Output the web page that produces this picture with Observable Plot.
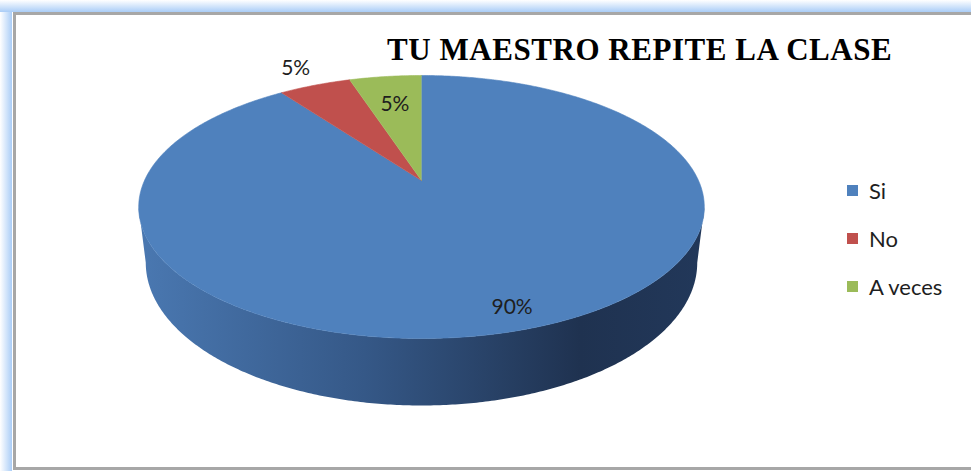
<!DOCTYPE html>
<html>
<head>
<meta charset="utf-8">
<script src="https://cdn.jsdelivr.net/npm/d3@7"></script>
<script src="https://cdn.jsdelivr.net/npm/@observablehq/plot@0.6"></script>
<style>
  html, body { margin: 0; padding: 0; background: #fff; }
  #wrap { position: relative; width: 971px; height: 471px; overflow: hidden; background: #fff; }
  .glowL { position: absolute; left: 0; top: 0; width: 12px; height: 471px;
    background: linear-gradient(to right, #ffffff, #aacdf7); }
  .glowT { position: absolute; left: 0; top: 0; width: 971px; height: 12px;
    background: linear-gradient(to bottom, #ffffff, #aacdf7); }
  .frame { position: absolute; left: 13px; top: 12px; width: 980px; height: 452px;
    border-left: 3px solid #a7a7a7; border-top: 3px solid #a7a7a7; border-bottom: 3px solid #a7a7a7; background: #fff; }
  #chart { position: absolute; left: 0; top: 0; }
  #title { position: absolute; left: 387px; top: 34px; font: bold 31px "Liberation Serif", "Times New Roman", serif;
    line-height: 31px; letter-spacing: 0.55px; color: #000; white-space: nowrap; }
  #legend { position: absolute; left: 847px; top: 178px; font: 22px Lato, "Open Sans", sans-serif; color: #1e1e1e; }
  #legend .row { display: flex; align-items: center; height: 24px; margin-bottom: 24px; white-space: nowrap; }
  #legend .sw { width: 11px; height: 11px; margin-right: 11px; }
</style>
</head>
<body>
<div id="wrap">
  <div class="glowL"></div>
  <div class="glowT"></div>
  <div class="frame"></div>
  <div id="chart"></div>
  <div id="title"></div>
  <div id="legend"></div>
</div>
<script>
// ---- data ----
const chartTitle = "TU MAESTRO REPITE LA CLASE";
const categories = ["Si", "No", "A veces"];
const values = [90, 5, 5];
const labels = ["90%", "5%", "5%"];
const colors = ["#4f81bd", "#c0504d", "#9bbb59"];

// ---- layout constants (3D perspective pie) ----
const CX = 421, CY = 180, R = 277, PA = -89.9, PC = 0.2015, DEPTH = 53.5, BOTTOM_SCALE = 0.975;
const labelRadius = [0.88, 1.22, 0.7];

function project(u, v, depth = 0) {
  const den = 1 + PC * v;
  const s = depth ? BOTTOM_SCALE : 1;
  return { x: CX + s * R * u / den, y: (PA * v + CY) / den + depth / den };
}

const total = d3.sum(values);
let acc = 0;
const slices = values.map((val, i) => {
  const a0 = acc / total * 2 * Math.PI;
  acc += val;
  const a1 = acc / total * 2 * Math.PI;
  return { i, a0, a1 };
});

function slicePoints(s) {
  const pts = [{ ...project(0, 0), key: categories[s.i] }];
  const n = Math.max(4, Math.ceil((s.a1 - s.a0) / 0.01));
  for (let k = 0; k <= n; k++) {
    const a = s.a0 + (s.a1 - s.a0) * k / n;
    pts.push({ ...project(Math.sin(a), Math.cos(a)), key: categories[s.i] });
  }
  return pts;
}

// side wall: visible front part between silhouette angles
const aS = Math.acos(-PC), aE = 2 * Math.PI - Math.acos(-PC);
const sidePts = [];
{
  const n = 300;
  const top = [], bot = [];
  for (let k = 0; k <= n; k++) {
    const a = aS + (aE - aS) * k / n;
    top.push(project(Math.sin(a), Math.cos(a)));
    bot.push(project(Math.sin(a), Math.cos(a), DEPTH));
  }
  sidePts.push(...top, ...bot.reverse());
}

const labelData = slices.map(s => {
  const m = (s.a0 + s.a1) / 2, r = labelRadius[s.i];
  const p = project(r * Math.sin(m), r * Math.cos(m));
  return { x: p.x, y: p.y, text: labels[s.i] };
});

const defs = () => {
  const d = d3.create("svg:defs");
  const g = d.append("linearGradient").attr("id", "sideGrad")
    .attr("x1", 0).attr("x2", 1).attr("y1", 0).attr("y2", 0);
  [["0%", "#4a78b1"], ["40%", "#355887"], ["78%", "#1f3250"], ["100%", "#22385a"]]
    .forEach(([o, c]) => g.append("stop").attr("offset", o).attr("stop-color", c));
  return d.node();
};

const marks = [
  defs,
  Plot.line(sidePts, { x: "x", y: "y", fill: "url(#sideGrad)", stroke: "none" }),
  ...slices.map(s => Plot.line(slicePoints(s), {
    x: "x", y: "y", fill: colors[s.i], stroke: colors[s.i], strokeWidth: 0.6
  })),
  Plot.text(labelData, {
    x: "x", y: "y", text: "text", fontSize: 21, fontFamily: "Lato, 'Open Sans', sans-serif",
    fill: "#1e1e1e", textAnchor: "middle", lineAnchor: "middle"
  })
];

const svg = Plot.plot({
  width: 971, height: 471, margin: 0,
  x: { type: "linear", domain: [0, 971], range: [0, 971], axis: null },
  y: { type: "linear", domain: [0, 471], range: [0, 471], axis: null },
  style: { background: "transparent", overflow: "visible" },
  marks
});
document.getElementById("chart").appendChild(svg);

document.getElementById("title").textContent = chartTitle;
const leg = document.getElementById("legend");
categories.forEach((c, i) => {
  const row = document.createElement("div");
  row.className = "row";
  const sw = document.createElement("div");
  sw.className = "sw";
  sw.style.background = colors[i];
  const t = document.createElement("span");
  t.textContent = c;
  row.appendChild(sw); row.appendChild(t);
  leg.appendChild(row);
});
</script>
</body>
</html>
